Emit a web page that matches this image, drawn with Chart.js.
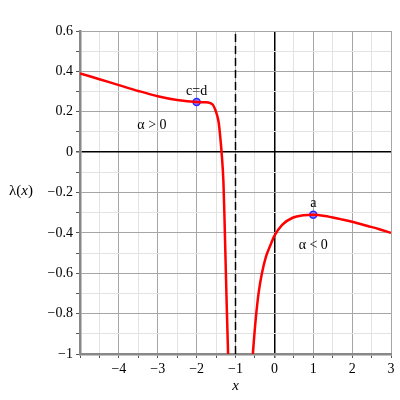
<!DOCTYPE html>
<html>
<head>
<meta charset="UTF-8">
<title>lambda(x)</title>
<script src="https://cdn.jsdelivr.net/npm/chart.js"></script>
<style>
  body { margin: 0; background: #fff; }
  #wrap { width: 400px; height: 400px; }
</style>
</head>
<body>
<div id="wrap"><canvas id="chart" width="400" height="400"></canvas></div>
<script>
// branch left of the asymptote
const leftX = [-5, -4.5, -4, -3.5, -3, -2.5, -2, -1.8, -1.65, -1.58, -1.52, -1.47, -1.43, -1.39, -1.35, -1.31, -1.28, -1.25, -1.22, -1.19];
const leftY = [0.39, 0.361, 0.332, 0.303, 0.277, 0.258, 0.248, 0.247, 0.243, 0.234, 0.21, 0.18, 0.143, 0.07, -0.02, -0.15, -0.35, -0.58, -0.8, -1.0];
// branch right of the asymptote
const rightX = [-0.555, -0.53, -0.5, -0.45, -0.4, -0.32, -0.22, -0.1, 0, 0.2, 0.47, 0.75, 1, 1.3, 1.7, 2, 2.4, 2.7, 3];
const rightY = [-1.0, -0.94, -0.87, -0.77, -0.69, -0.6, -0.52, -0.46, -0.415, -0.36, -0.325, -0.313, -0.31, -0.316, -0.332, -0.345, -0.366, -0.382, -0.4];
// marked points
const markX = [-2, 1];
const markY = [0.248, -0.31];
const markLabels = ['c=d', 'a'];
// asymptote
const asymX = -1;
// axis ranges
const xRange = [-5, 3];
const yRange = [-1, 0.6];

const serif = "'Liberation Serif', 'DejaVu Serif', serif";
const pts = (xs, ys) => xs.map((x, i) => ({ x: x, y: ys[i] }));
const fmt = v => {
  if (Math.abs(v) < 1e-9) return '0';
  const s = Number.isInteger(Math.round(v * 10) / 10) ? String(Math.abs(Math.round(v))) : Math.abs(v).toFixed(1);
  return (v < 0 ? '\u2212' : '') + s;
};

const textPlugin = {
  id: 'texts',
  afterDatasetsDraw(chart) {
    const ctx = chart.ctx;
    const xs = chart.scales.x, ys = chart.scales.y;
    ctx.save();
    ctx.fillStyle = '#000';
    ctx.textAlign = 'center';
    ctx.textBaseline = 'middle';
    ctx.font = '14px ' + serif;
    // labels above the marked points
    markLabels.forEach((t, i) => {
      ctx.fillText(t, xs.getPixelForValue(markX[i]), ys.getPixelForValue(markY[i]) - 11);
    });
    ctx.fillText('\u03b1 > 0', xs.getPixelForValue(-3.15), ys.getPixelForValue(0.135));
    ctx.fillText('\u03b1 < 0', xs.getPixelForValue(1), ys.getPixelForValue(-0.46));
    // axis titles
    ctx.font = 'italic 15px ' + serif;
    ctx.fillText('x', (chart.chartArea.left + chart.chartArea.right) / 2, 386);
    ctx.textAlign = 'left';
    let px = 9;
    const parts = [['\u03bb(', ''], ['x', 'italic '], [')', '']];
    parts.forEach(p => {
      ctx.font = p[1] + '15px ' + serif;
      ctx.fillText(p[0], px, 191);
      px += ctx.measureText(p[0]).width;
    });
    ctx.restore();
  }
};

new Chart(document.getElementById('chart'), {
  type: 'scatter',
  data: {
    datasets: [
      { data: [{ x: asymX, y: yRange[0] }, { x: asymX, y: yRange[1] }], showLine: true, borderColor: '#000', borderWidth: 1.5, borderDash: [8, 4], pointRadius: 0 },
      { data: pts(leftX, leftY), showLine: true, borderColor: '#ff0000', borderWidth: 2.5, pointRadius: 0, cubicInterpolationMode: 'monotone' },
      { data: pts(rightX, rightY), showLine: true, borderColor: '#ff0000', borderWidth: 2.5, pointRadius: 0, cubicInterpolationMode: 'monotone' },
      { data: pts(markX, markY), showLine: false, pointRadius: 3.5, pointBorderWidth: 1.5, pointBorderColor: '#2a2aff', pointBackgroundColor: '#9a7cf0' }
    ]
  },
  options: {
    responsive: false,
    animation: false,
    devicePixelRatio: 1,
    layout: { padding: { top: 31, right: 9, left: 0, bottom: 0 } },
    plugins: { legend: { display: false }, tooltip: { enabled: false } },
    scales: {
      x: {
        type: 'linear', min: xRange[0], max: xRange[1],
        afterFit: s => { s.height = 46; },
        border: { color: '#888', width: 2.5 },
        grid: {
          color: c => c.tick.value === 0 ? '#000' : (Number.isInteger(c.tick.value) ? '#a6a6a6' : '#e3e3e3'),
          lineWidth: c => c.tick.value === 0 ? 1.5 : 1,
          tickColor: '#555', tickLength: 4
        },
        ticks: {
          stepSize: 0.5, padding: 3, color: '#000', font: { family: serif, size: 14 },
          maxRotation: 0, minRotation: 0, autoSkip: false,
          callback: v => (Number.isInteger(v) && v !== xRange[0]) ? fmt(v) : ''
        }
      },
      y: {
        type: 'linear', min: yRange[0], max: yRange[1],
        afterFit: s => { s.width = 80; },
        border: { color: '#888', width: 2.5 },
        grid: {
          color: c => {
            const k = Math.round(c.tick.value * 10);
            if (k === 0) return '#000';
            return k % 2 === 0 ? '#a6a6a6' : '#e3e3e3';
          },
          lineWidth: c => Math.round(c.tick.value * 10) === 0 ? 1.5 : 1,
          tickColor: '#555', tickLength: 4
        },
        ticks: {
          stepSize: 0.1, padding: 3, color: '#000', font: { family: serif, size: 14 },
          autoSkip: false,
          callback: v => Math.round(v * 10) % 2 === 0 ? fmt(v) : ''
        }
      }
    }
  },
  plugins: [textPlugin]
});
</script>
</body>
</html>
